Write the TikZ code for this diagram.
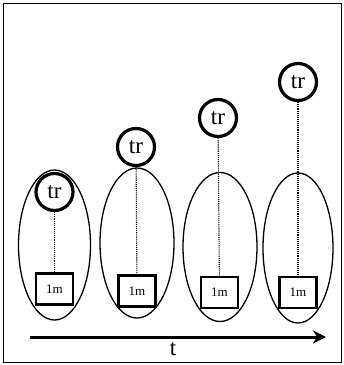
\documentclass[tikz,border=0pt]{standalone}
\usepackage{fontspec}
\setmainfont{Liberation Serif}
\usetikzlibrary{shapes.geometric,arrows.meta}

\begin{document}
\begin{tikzpicture}[x=1pt,y=-1pt,
  trnode/.style={shape=circle, minimum size=37pt, inner sep=0pt, line width=3.2pt, draw, fill=white, font=\fontsize{23}{23}\selectfont},
  lmnode/.style={shape=rectangle, minimum width=37pt, minimum height=31pt, inner sep=0pt, line width=2.8pt, draw, fill=white, font=\fontsize{13}{13}\selectfont},
  orbit/.style={shape=ellipse, minimum width=72pt, minimum height=150pt, inner sep=0pt, line width=1.3pt, draw},
  tether/.style={densely dotted, line width=1.1pt}]
%[inner sep=1mm]
\useasboundingbox (0,0) rectangle (344,365);
\path[draw, line width=0.8pt] (3,3) rectangle (341,362);

\path (54.5,245) node (e1) [orbit] {};
\path (137,243) node (e2) [orbit, minimum width=74pt] {};
\path (220,247) node (e3) [orbit, minimum width=74pt, minimum height=149pt] {};
\path (298,248) node (e4) [orbit, minimum width=70pt] {};

\path (54.5,289) node (m1) [lmnode] {1m};
\path (137,291) node (m2) [lmnode] {1m};
\path (219.5,292.5) node (m3) [lmnode] {1m};
\path (298,292.5) node (m4) [lmnode] {1m};

\path (54.5,192) node (tr1) [trnode] {tr};
\path (136,147) node (tr2) [trnode] {tr};
\path (218,118) node (tr3) [trnode] {tr};
\path (298,82) node (tr4) [trnode] {tr};

\draw [tether] (tr1) to (m1);
\draw [tether] (tr2) to (m2);
\draw [tether] (tr3) to (m3);
\draw [tether] (tr4) to (m4);

\coordinate (tstart) at (30,337);
\coordinate (tend) at (326,337);
\draw [-{Stealth[length=13pt,width=13pt]}, line width=3pt] (tstart) to (tend);
\path (173,349) node (tlab) [font=\fontsize{23}{23}\selectfont] {t};

\end{tikzpicture}
\end{document}
